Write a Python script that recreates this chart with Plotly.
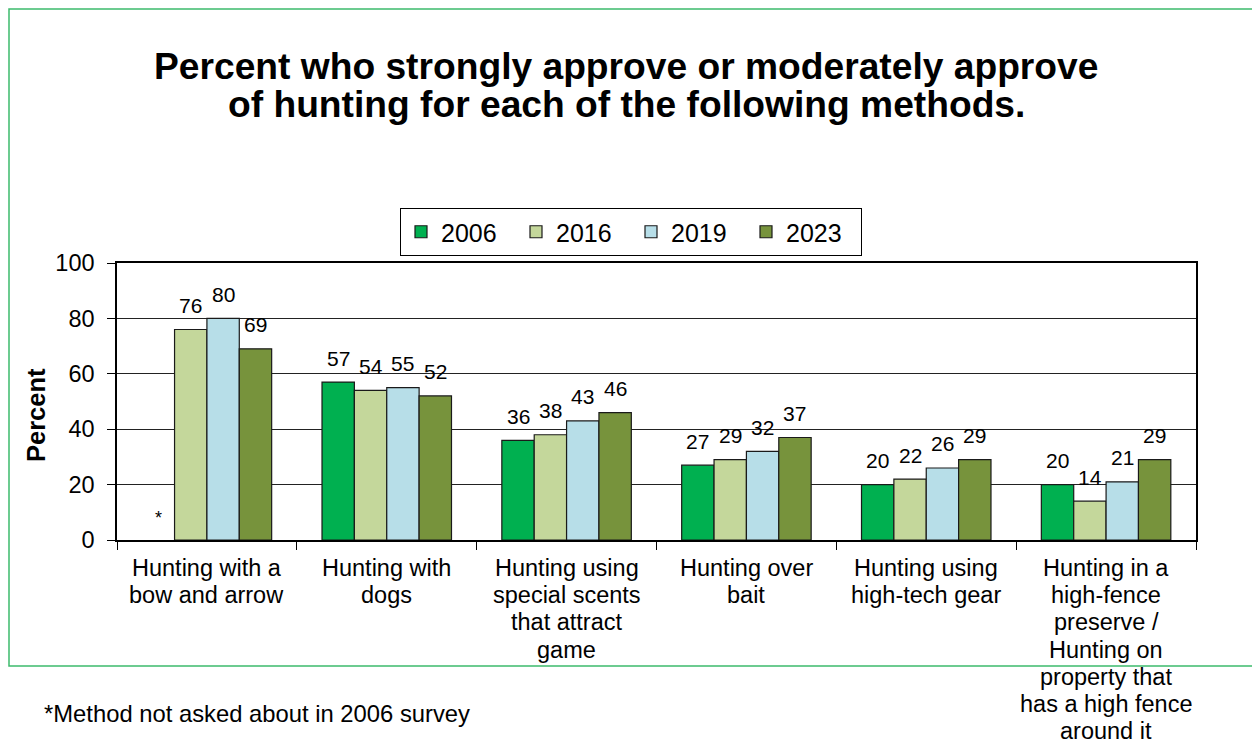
import plotly.graph_objects as go

# Survey methods and approval percentages by survey year
methods = [
    "Hunting with a<br>bow and arrow",
    "Hunting with<br>dogs",
    "Hunting using<br>special scents<br>that attract<br>game",
    "Hunting over<br>bait",
    "Hunting using<br>high-tech gear",
    "Hunting in a<br>high-fence<br>preserve /<br>Hunting on<br>property that<br>has a high fence<br>around it",
]
years = ["2006", "2016", "2019", "2023"]
pct_2006 = [None, 57, 36, 27, 20, 20]
pct_2016 = [76, 54, 38, 29, 22, 14]
pct_2019 = [80, 55, 43, 32, 26, 21]
pct_2023 = [69, 52, 46, 37, 29, 29]
y_ticks = [0, 20, 40, 60, 80, 100]

series = [pct_2006, pct_2016, pct_2019, pct_2023]
colors = ["#00B050", "#C4D79B", "#B7DEE8", "#77933C"]

FONT = "Liberation Sans"
W, H = 1252, 743
L, R, T, B = 117, 56, 263, 203
PW, PH = W - L - R, H - T - B
BARGAP = 0.28
# width of one bar in pixels, used to place value labels over their bars
BAR_PX = PW / len(methods) * (1 - BARGAP) / len(years)


def px_x(x):
    return (x - L) / PW


def px_y(y):
    return (H - B - y) / PH


fig = go.Figure()
for j, (name, vals, col) in enumerate(zip(years, series, colors)):
    fig.add_trace(go.Bar(
        x=methods, y=vals, name=name,
        marker=dict(color=col, line=dict(color="#1a1a1a", width=1.2)),
    ))
    # value labels above each bar
    for m, v in zip(methods, vals):
        if v is None:
            continue
        fig.add_annotation(x=m, y=v, xref="x", yref="y", text=str(v),
                           showarrow=False, xanchor="center", yanchor="middle",
                           xshift=(j - (len(years) - 1) / 2) * BAR_PX, yshift=24,
                           font=dict(size=21, color="black", family=FONT))

# category labels, one line per annotation for tight line spacing
for m in methods:
    for i, line in enumerate(m.split("<br>")):
        fig.add_annotation(x=m, xref="x", y=0, yref="paper", text=line,
                           showarrow=False, yanchor="middle", yshift=-(28 + 27.2 * i),
                           font=dict(size=23.5, color="black", family=FONT))

# title, two lines
for i, line in enumerate(["Percent who strongly approve or moderately approve",
                          "of hunting for each of the following methods."]):
    fig.add_annotation(x=px_x(626), y=px_y(66 + 38 * i), xref="paper", yref="paper",
                       text=f"<b>{line}</b>", showarrow=False,
                       xanchor="center", yanchor="middle",
                       font=dict(size=37.2, color="black", family=FONT))

# note marker where 2006 was not asked
fig.add_annotation(x=methods[0], y=0, xref="x", yref="y", text="*",
                   showarrow=False, xshift=-1.5 * BAR_PX, yshift=22,
                   font=dict(size=18, color="black", family=FONT))

# y-axis title
fig.add_annotation(x=px_x(36), y=px_y(415), xref="paper", yref="paper",
                   text="<b>Percent</b>", textangle=-90, showarrow=False,
                   xanchor="center", yanchor="middle",
                   font=dict(size=25.5, color="black", family=FONT))

# footnote
fig.add_annotation(x=px_x(42), y=px_y(713), xref="paper", yref="paper", showarrow=False,
                   text="*Method not asked about in 2006 survey",
                   xanchor="left", yanchor="middle",
                   font=dict(size=23.8, color="black", family=FONT))

# outer green frame
fig.add_shape(type="rect", xref="paper", yref="paper",
              x0=px_x(9), x1=px_x(1270), y0=px_y(666), y1=px_y(9),
              line=dict(color="#3CBA6C", width=1.5), layer="below")

fig.update_layout(
    width=W, height=H,
    margin=dict(l=L, r=R, t=T, b=B),
    paper_bgcolor="white", plot_bgcolor="white",
    barmode="group", bargap=BARGAP, bargroupgap=0,
    font=dict(family=FONT, color="black"),
    legend=dict(
        orientation="h", x=px_x(631), xanchor="center",
        y=px_y(208), yanchor="top",
        bordercolor="black", borderwidth=1, bgcolor="white",
        font=dict(size=25, color="black", family=FONT),
        entrywidth=70, entrywidthmode="pixels",
        traceorder="normal",
    ),
    showlegend=True,
)

fig.update_xaxes(
    showline=True, linecolor="black", linewidth=1.5, mirror=True,
    ticks="outside", tickson="boundaries", ticklen=8, tickcolor="black",
    showticklabels=False,
)
fig.update_yaxes(
    range=[0, 100], tickvals=y_ticks,
    showline=True, linecolor="black", linewidth=1.5, mirror=True,
    ticks="outside", ticklen=8, tickcolor="black",
    showgrid=True, gridcolor="#222222", gridwidth=1,
    tickfont=dict(size=23.5, color="black", family=FONT),
    ticklabelstandoff=8,
    zeroline=False,
)

fig.write_html("out.html")
